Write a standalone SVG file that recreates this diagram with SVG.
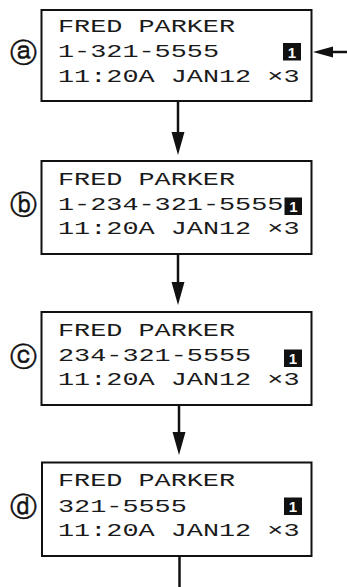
<svg xmlns="http://www.w3.org/2000/svg" width="347" height="587" viewBox="0 0 347 587">
<defs>
<style>
.box{fill:#fff;stroke:#111;stroke-width:2}
.t{font-family:"Liberation Mono",monospace;font-size:19px;fill:#1a1a1a}
.lab{font-family:"DejaVu Sans",sans-serif;font-size:27px;fill:#111;stroke:#111;stroke-width:0.5}
.sq{fill:#111}
.sqt{font-family:"Liberation Sans",sans-serif;font-size:15px;font-weight:bold;fill:#fff;text-anchor:middle}
.ln{stroke:#111;stroke-width:2.5;fill:none}
.ah{fill:#111}
</style>
</defs>
<rect width="347" height="587" fill="#fff"/>
<g id="node-a">
<rect class="box" x="41.5" y="10" width="270" height="91"/>
<text class="lab" x="10" y="62">ⓐ</text>
<text class="t" x="58" y="32" textLength="177" lengthAdjust="spacingAndGlyphs">FRED PARKER</text>
<text class="t" x="58" y="57" textLength="161" lengthAdjust="spacingAndGlyphs">1-321-5555</text>
<text class="t" x="58" y="82" textLength="241.5" lengthAdjust="spacingAndGlyphs">11:20A JAN12 ×3</text>
<rect class="sq" x="283" y="43" width="18" height="17.5"/>
<text class="sqt" x="292" y="57.5">1</text>
</g>
<g id="node-b">
<rect class="box" x="41.5" y="161" width="270" height="93"/>
<text class="lab" x="10" y="214">ⓑ</text>
<text class="t" x="58" y="184.5" textLength="177" lengthAdjust="spacingAndGlyphs">FRED PARKER</text>
<text class="t" x="58" y="209.5" textLength="225.4" lengthAdjust="spacingAndGlyphs">1-234-321-5555</text>
<text class="t" x="58" y="234" textLength="241.5" lengthAdjust="spacingAndGlyphs">11:20A JAN12 ×3</text>
<rect class="sq" x="284.5" y="197.5" width="17.5" height="17.5"/>
<text class="sqt" x="293.3" y="212">1</text>
</g>
<g id="node-c">
<rect class="box" x="41.5" y="312" width="270" height="93"/>
<text class="lab" x="10" y="366">ⓒ</text>
<text class="t" x="58" y="335.5" textLength="177" lengthAdjust="spacingAndGlyphs">FRED PARKER</text>
<text class="t" x="58" y="361" textLength="193.2" lengthAdjust="spacingAndGlyphs">234-321-5555</text>
<text class="t" x="58" y="385" textLength="241.5" lengthAdjust="spacingAndGlyphs">11:20A JAN12 ×3</text>
<rect class="sq" x="284" y="349.5" width="18" height="17.5"/>
<text class="sqt" x="293" y="364">1</text>
</g>
<g id="node-d">
<rect class="box" x="42" y="462.5" width="269.5" height="93.5"/>
<text class="lab" x="10" y="516">ⓓ</text>
<text class="t" x="58" y="485.5" textLength="177" lengthAdjust="spacingAndGlyphs">FRED PARKER</text>
<text class="t" x="58" y="511.5" textLength="128.8" lengthAdjust="spacingAndGlyphs">321-5555</text>
<text class="t" x="58" y="536" textLength="241.5" lengthAdjust="spacingAndGlyphs">11:20A JAN12 ×3</text>
<rect class="sq" x="284" y="497.5" width="18" height="17.5"/>
<text class="sqt" x="293" y="512">1</text>
</g>
<g id="connectors">
<line class="ln" x1="347" y1="52" x2="330" y2="52"/>
<polygon class="ah" points="313,52 333,46.5 333,57.5"/>
<line class="ln" x1="178" y1="101" x2="178" y2="136"/>
<polygon class="ah" points="178,155 171.5,132 184.5,132"/>
<line class="ln" x1="178" y1="254" x2="178" y2="286"/>
<polygon class="ah" points="178,305 171.5,282 184.5,282"/>
<line class="ln" x1="179" y1="405" x2="179" y2="436"/>
<polygon class="ah" points="179,455 172.5,432 185.5,432"/>
<line class="ln" x1="179.5" y1="556" x2="179.5" y2="587"/>
</g>
</svg>
